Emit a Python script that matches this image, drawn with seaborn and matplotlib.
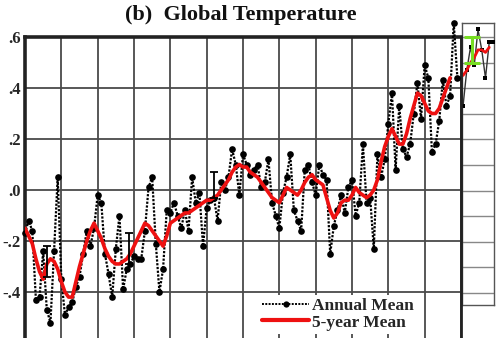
import numpy as np
import pandas as pd
import matplotlib
matplotlib.use("Agg")
import matplotlib.pyplot as plt
import seaborn as sns
from matplotlib.lines import Line2D

# ---------------- data ----------------
years = list(range(1880, 2000))
annual_mean = [
    -0.17, -0.12, -0.16, -0.43, -0.42, -0.24, -0.47, -0.52, -0.24, 0.05,   # 1880s
    -0.35, -0.49, -0.46, -0.44, -0.38, -0.34, -0.25, -0.16, -0.22, -0.15,  # 1890s
    -0.02, -0.05, -0.25, -0.33, -0.42, -0.23, -0.10, -0.39, -0.31, -0.29,  # 1900s
    -0.26, -0.27, -0.27, -0.16, 0.01, 0.05, -0.21, -0.40, -0.31, -0.08,    # 1910s
    -0.09, -0.05, -0.10, -0.15, -0.08, -0.16, 0.05, -0.05, -0.01, -0.22,   # 1920s
    -0.07, -0.04, -0.03, -0.12, 0.03, 0.00, 0.05, 0.16, 0.10, -0.02,       # 1930s
    0.14, 0.10, 0.06, 0.08, 0.10, 0.01, 0.03, 0.12, -0.05, -0.10,          # 1940s
    -0.15, -0.01, 0.05, 0.14, -0.08, -0.12, -0.16, 0.08, 0.10, 0.03,       # 1950s
    -0.02, 0.10, 0.06, 0.04, -0.25, -0.14, -0.08, -0.02, -0.09, 0.01,      # 1960s
    0.04, -0.10, -0.05, 0.18, -0.05, -0.03, -0.23, 0.14, 0.05, 0.12,       # 1970s
    0.26, 0.38, 0.08, 0.33, 0.16, 0.13, 0.18, 0.30, 0.42, 0.28,            # 1980s
    0.49, 0.44, 0.15, 0.18, 0.27, 0.43, 0.33, 0.37, 0.655, 0.44,           # 1990s
]
five_year_years = list(range(1880, 1998))
five_year_mean = [
    -0.15, -0.18, -0.21, -0.27, -0.32, -0.35, -0.29, -0.27, -0.28, -0.31,
    -0.36, -0.40, -0.42, -0.42, -0.36, -0.30, -0.25, -0.20, -0.16, -0.13,
    -0.16, -0.19, -0.23, -0.26, -0.28, -0.29, -0.29, -0.28, -0.27, -0.25,
    -0.22, -0.19, -0.16, -0.13, -0.14, -0.16, -0.18, -0.20, -0.22, -0.18,
    -0.13, -0.12, -0.11, -0.10, -0.09, -0.09, -0.08, -0.07, -0.06, -0.05,
    -0.04, -0.04, -0.03, -0.02, 0.00, 0.02, 0.04, 0.07, 0.09, 0.10,
    0.09, 0.09, 0.07, 0.06, 0.05, 0.03, 0.01, -0.01, -0.03, -0.04,
    -0.05, -0.02, 0.01, 0.00, -0.01, -0.02, 0.00, 0.03, 0.05, 0.06,
    0.04, 0.03, 0.02, -0.03, -0.08, -0.11, -0.09, -0.05, -0.04, -0.04,
    -0.02, 0.01, -0.01, -0.02, -0.03, -0.02, 0.00, 0.04, 0.11, 0.17,
    0.21, 0.24, 0.21, 0.18, 0.18, 0.22, 0.28, 0.33, 0.38, 0.37,
    0.34, 0.31, 0.30, 0.30, 0.32, 0.36, 0.40, 0.44,
]
# error bars (year, centre, half-width)
err_years = [1886, 1908.5, 1932]
err_centre = [-0.28, -0.23, 0.02]
err_half = [0.06, 0.06, 0.05]

# appended panel (recent years)
recent_years = list(range(2000, 2009))
recent_annual = [0.33, 0.47, 0.56, 0.49, 0.63, 0.55, 0.44, 0.58, 0.58]
recent_5yr_years = list(range(2000, 2008))
recent_5yr = [0.45, 0.47, 0.50, 0.52, 0.55, 0.55, 0.54, 0.56]
green_err_year = [2002.5]
green_err_centre = [0.55]
green_err_half = [0.05]

yticks = [-0.6, -0.4, -0.2, 0.0, 0.2, 0.4, 0.6]
ytick_labels = ["-.6", "-.4", "-.2", ".0", ".2", ".4", ".6"]
xticks = list(range(1880, 2001, 10))

df_annual = pd.DataFrame({"year": years, "value": annual_mean})
df_five = pd.DataFrame({"year": five_year_years, "value": five_year_mean})
df_recent = pd.DataFrame({"year": recent_years, "value": recent_annual})
df_recent5 = pd.DataFrame({"year": recent_5yr_years, "value": recent_5yr})

# ---------------- figure ----------------
sns.set_theme(style="white")
plt.rcParams["font.family"] = ["Liberation Serif", "DejaVu Serif"]

W, H = 500, 338
fig = plt.figure(figsize=(W / 100, H / 100), dpi=100)
fig.patch.set_facecolor("white")

def fx(px):
    return px / W

def fy(py):
    return 1 - py / H

# main axes: x 25..461 px, y 37 (0.6) .. 343 (-0.6)
ax = fig.add_axes([fx(25), fy(343), fx(461) - fx(25), fy(37) - fy(343)])
ax.set_xlim(1880, 2000)
ax.set_ylim(-0.6, 0.6)
ax.set_xticks(xticks)
ax.set_yticks(yticks)
ax.set_yticklabels(ytick_labels, fontsize=12, fontweight="bold")
ax.set_xticklabels([])
ax.tick_params(axis="both", length=0, pad=3)
ax.grid(True, color="#4a4a4a", linewidth=1.3)
ax.set_axisbelow(True)
for side in ["left", "top", "right"]:
    ax.spines[side].set_visible(True)
    ax.spines[side].set_color("#222222")
ax.spines["left"].set_linewidth(2.6)
ax.spines["top"].set_linewidth(2.6)
ax.spines["right"].set_linewidth(2.0)
ax.spines["bottom"].set_visible(False)

sns.lineplot(data=df_annual, x="year", y="value", ax=ax, color="black",
             linestyle=(0, (1, 0.7)), linewidth=1.6, marker="o", markersize=4.8,
             markeredgewidth=0, clip_on=False, zorder=3, legend=False)
sns.lineplot(data=df_five, x="year", y="value", ax=ax, color="#ee1111",
             linewidth=2.6, zorder=4, legend=False)
ax.errorbar(err_years, err_centre, yerr=err_half, fmt="none", ecolor="black",
            elinewidth=1.3, capsize=3, capthick=1.3, zorder=5)
ax.set_xlabel("")
ax.set_ylabel("")

# legend
handles = [
    Line2D([], [], color="black", linestyle=(0, (1, 0.7)), linewidth=1.4,
           marker="o", markersize=4.5, markevery=[1], markeredgewidth=0),
    Line2D([], [], color="#ee1111", linewidth=3),
]
leg = ax.legend(handles, ["Annual Mean", "5-year Mean"], loc="lower left",
                bbox_to_anchor=(fx(259), fy(334)), bbox_transform=fig.transFigure,
                frameon=True, facecolor="white", edgecolor="none", framealpha=1,
                fontsize=12.5, handlelength=2.7, handletextpad=0.15,
                labelspacing=0.0, borderpad=0.2, borderaxespad=0)
for t in leg.get_texts():
    t.set_fontweight("bold")

# title
fig.text(fx(241), fy(15), "(b)  Global Temperature", ha="center", va="center",
         fontsize=16, fontweight="bold", color="#111111")

# appended panel: x 462..494 px, y 23..305 px
ax2 = fig.add_axes([fx(462), fy(305), fx(494) - fx(462), fy(23) - fy(305)])
ax2.set_xlim(1999.73, 2008.27)
ax2.set_ylim(-0.447, 0.655)
ax2.set_yticks([-0.4, -0.3, -0.2, -0.1, 0.0, 0.1, 0.2, 0.3, 0.4, 0.5, 0.6])
ax2.set_xticks([])
ax2.set_yticklabels([])
ax2.tick_params(length=0)
ax2.grid(True, axis="y", color="#888888", linewidth=1.0)
ax2.set_axisbelow(True)
for s in ax2.spines.values():
    s.set_visible(True)
    s.set_color("#555555")
    s.set_linewidth(1.0)
ax2.set_facecolor("white")

sns.lineplot(data=df_recent, x="year", y="value", ax=ax2, color="#333333",
             linewidth=1.0, marker="s", markersize=3.5, markeredgewidth=0,
             markerfacecolor="black", legend=False, zorder=3)
sns.lineplot(data=df_recent5, x="year", y="value", ax=ax2, color="#ee1111",
             linewidth=2.0, legend=False, zorder=4)
ax2.errorbar(green_err_year, green_err_centre, yerr=green_err_half, fmt="none",
             ecolor="#77dd22", elinewidth=2.2, capsize=6, capthick=2.2, zorder=5)
ax2.set_xlabel("")
ax2.set_ylabel("")

# main panel drawn above so its right spine sits on top
ax.set_zorder(2)
ax.patch.set_alpha(0)

fig.savefig("out.png", dpi=100, facecolor="white")
